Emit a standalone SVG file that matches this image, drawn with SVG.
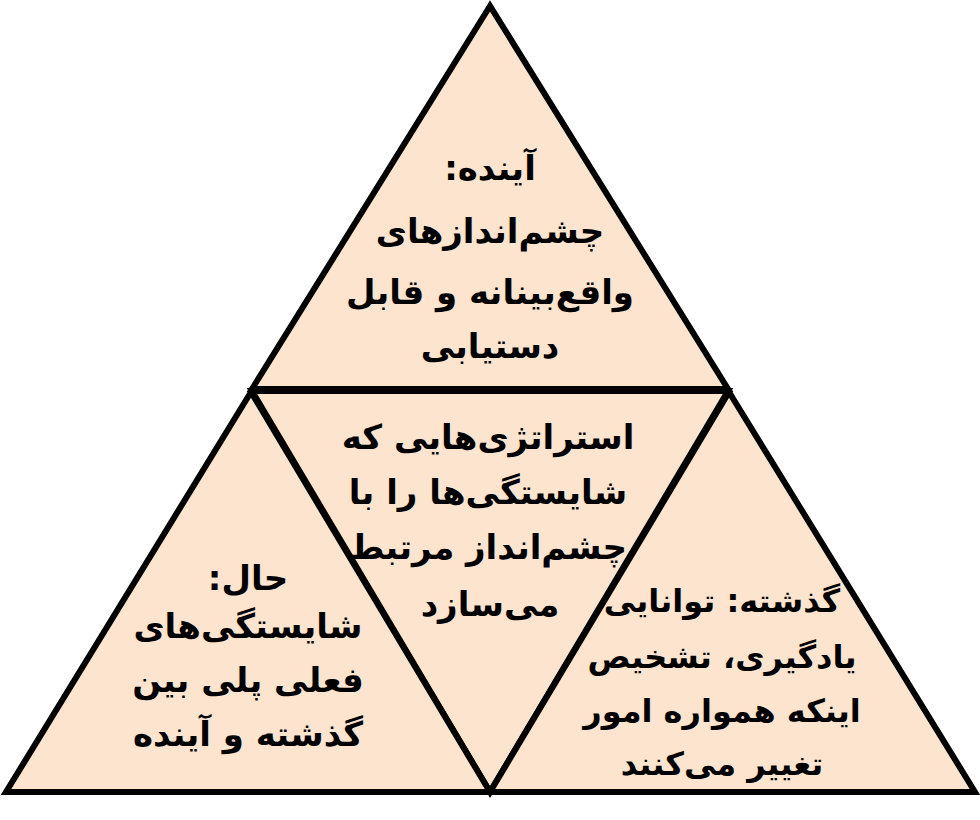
<svg xmlns="http://www.w3.org/2000/svg" width="980" height="820" viewBox="0 0 980 820">
<style>
.tri{fill:#FCE4CF;stroke:#000;stroke-width:6;stroke-linejoin:miter;stroke-miterlimit:10}
.t{font-family:"DejaVu Sans","Noto Sans",sans-serif;font-weight:bold;fill:#000;text-anchor:middle;direction:rtl;unicode-bidi:embed}
.s34{font-size:34px}
.s32{font-size:32px}
</style>
<rect width="980" height="820" fill="#fff"/>
<g id="future">
<polygon class="tri" points="490,6 252,389 728,389"/>
<text class="t s34" x="490" y="180">آینده:</text>
<text class="t s34" x="490" y="243">چشم‌اندازهای</text>
<text class="t s34" x="490" y="304">واقع‌بینانه و قابل</text>
<text class="t s34" x="490" y="358">دستیابی</text>
</g>
<g id="strategy">
<polygon class="tri" points="252,391 728,391 490,792"/>
<text class="t s34" x="488" y="449">استراتژی‌هایی که</text>
<text class="t s34" x="488" y="504">شایستگی‌ها را با</text>
<text class="t s34" x="488" y="559">چشم‌انداز مرتبط</text>
<text class="t s34" x="490" y="616">می‌سازد</text>
</g>
<g id="present">
<polygon class="tri" points="251,392 6,792 490,792"/>
<text class="t s34" x="248" y="590">حال:</text>
<text class="t s34" x="248" y="638">شایستگی‌های</text>
<text class="t s34" x="248" y="692">فعلی پلی بین</text>
<text class="t s34" x="248" y="746">گذشته و آینده</text>
</g>
<g id="past">
<polygon class="tri" points="729,392 490,792 975,792"/>
<text class="t s32" x="722" y="612">گذشته: توانایی</text>
<text class="t s32" x="722" y="668">یادگیری، تشخیص</text>
<text class="t s32" x="722" y="722">اینکه همواره امور</text>
<text class="t s32" x="722" y="775">تغییر می‌کنند</text>
</g>
<g id="connectors"></g>
</svg>
